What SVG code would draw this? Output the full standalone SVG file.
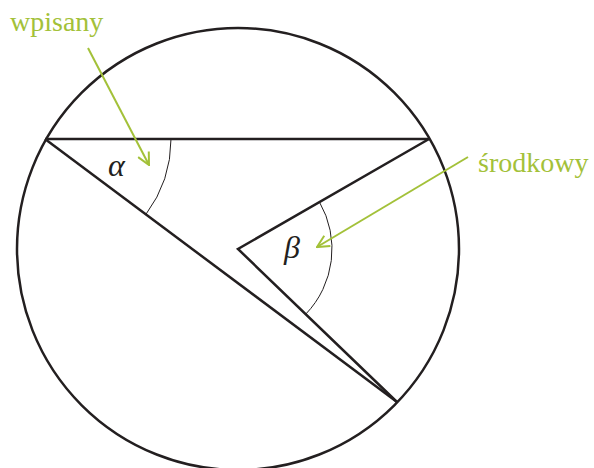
<svg xmlns="http://www.w3.org/2000/svg" width="594" height="468" viewBox="0 0 594 468">
<style>
.ln{fill:none;stroke:#231f20;stroke-width:2.5;stroke-linejoin:miter}
.arc{fill:none;stroke:#231f20;stroke-width:1}
.ar{fill:none;stroke:#a3c139;stroke-width:2}
.lbl{font-family:"Liberation Serif",serif;font-size:28px;fill:#a3c139}
.gr{font-family:"Liberation Serif",serif;font-style:italic;font-size:32px;fill:#231f20}
</style>
<defs>
<marker id="ah" viewBox="0 0 14 14" refX="13" refY="7" markerWidth="14" markerHeight="14" markerUnits="userSpaceOnUse" orient="auto">
<path d="M1,1 L13,7 L1,13" fill="none" stroke="#a3c139" stroke-width="2"/>
</marker>
</defs>
<g id="circle"><circle cx="238" cy="249" r="221" class="ln"/></g>
<g id="connectors">
<line class="ln" x1="45" y1="139" x2="429" y2="139"/>
<line class="ln" x1="45" y1="139" x2="397" y2="402"/>
<polyline class="ln" points="429,139 238,249 397,402"/>
<path class="arc" d="M171,139 A126,126 0 0 1 145.9,214.4"/>
<path class="arc" d="M319.5,202.1 A94,94 0 0 1 305.7,314.2"/>
<line class="ar" x1="88" y1="48" x2="149" y2="165" marker-end="url(#ah)"/>
<line class="ar" x1="468" y1="157" x2="317" y2="247" marker-end="url(#ah)"/>
</g>
<g id="label-wpisany"><text class="lbl" x="10" y="31">wpisany</text></g>
<g id="label-srodkowy"><text class="lbl" x="478" y="172">środkowy</text></g>
<g id="label-alpha"><text class="gr" x="108" y="176">α</text></g>
<g id="label-beta"><text class="gr" x="284" y="258">β</text></g>
</svg>
